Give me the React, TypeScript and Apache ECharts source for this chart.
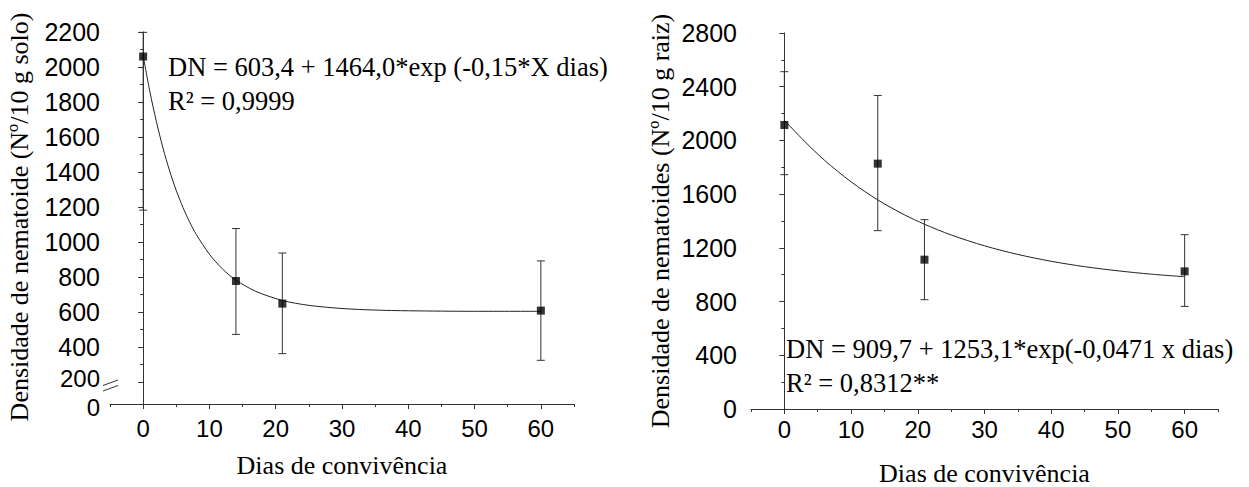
import React, { useEffect, useRef } from 'react';
import * as echarts from 'echarts';

// ---- data ----
const days = [0, 14, 21, 60];
const soloMean = [2060, 777, 648, 608];
const soloLow = [1182, 472, 362, 324];
const soloHigh = [2198, 1077, 937, 892];
const raizMean = [2115, 1827, 1112, 1025];
const raizLow = [1745, 1328, 814, 764];
const raizHigh = [2512, 2335, 1410, 1298];

// fitted curves
const soloFitDays = [0, 1, 2, 3, 4, 5, 6, 7, 8, 10, 12, 14, 17, 21, 25, 30, 35, 40, 50, 60];
const soloFitValues = [2066, 1862, 1688, 1536, 1406, 1294, 1198, 1115, 1044, 930, 845, 782, 718, 666, 638, 620, 611, 607, 604, 604];
const raizFitDays = [0, 3, 6, 10, 14, 18, 21, 25, 30, 35, 40, 45, 50, 55, 60];
const raizFitValues = [2150, 1995, 1853, 1692, 1557, 1446, 1376, 1296, 1215, 1151, 1100, 1060, 1029, 1004, 985];

// tick labels
const xTicks = [0, 10, 20, 30, 40, 50, 60];
const xMinorTicks = [-5, 5, 15, 25, 35, 45, 55, 65];
const lowerYTicks = [0];
const breakTopValue = 200;

const eqSolo = 'DN = 603,4 + 1464,0*exp (-0,15*X dias)';
const r2Solo = 'R² = 0,9999';
const eqRaiz = 'DN = 909,7 + 1253,1*exp(-0,0471 x dias)';
const r2Raiz = 'R² = 0,8312**';
const ySoloTitle = 'Densidade de nematoide (Nº/10 g solo)';
const yRaizTitle = 'Densidade de nematoides (Nº/10 g raiz)';
const xTitle = 'Dias de convivência';

const SERIF = "'Liberation Serif', 'Times New Roman', serif";
const SANS = "'Liberation Sans', Arial, sans-serif";
const AX = '#333';
const plain = (v: number) => String(v);

function errorBarRender(params: any, api: any) {
  const x = api.value(0);
  const lo = api.coord([x, api.value(1)]);
  const hi = api.coord([x, api.value(2)]);
  const w = 4;
  const style = { stroke: '#333', lineWidth: 1, fill: 'none' };
  return {
    type: 'group',
    children: [
      { type: 'line', shape: { x1: lo[0], y1: lo[1], x2: hi[0], y2: hi[1] }, style },
      { type: 'line', shape: { x1: hi[0] - w, y1: hi[1], x2: hi[0] + w, y2: hi[1] }, style },
      { type: 'line', shape: { x1: lo[0] - w, y1: lo[1], x2: lo[0] + w, y2: lo[1] }, style },
    ],
  };
}

function majorX(gridIndex: number, margin: number, nameGap: number) {
  return {
    type: 'value', gridIndex, min: -5, max: 65, position: 'bottom',
    axisLine: { show: true, lineStyle: { color: AX, width: 1 } },
    axisTick: { show: true, length: 5, customValues: xTicks, lineStyle: { color: AX } },
    axisLabel: { show: true, customValues: xTicks, formatter: plain, fontFamily: SANS, fontSize: 24, color: '#000', margin },
    splitLine: { show: false },
    name: xTitle, nameLocation: 'middle', nameGap,
    nameTextStyle: { fontFamily: SERIF, fontSize: 26, color: '#000' },
  };
}
function minorX(gridIndex: number) {
  return {
    type: 'value', gridIndex, min: -5, max: 65, position: 'bottom',
    axisLine: { show: false },
    axisTick: { show: true, length: 3, customValues: xMinorTicks, lineStyle: { color: AX } },
    axisLabel: { show: false },
    splitLine: { show: false },
  };
}

const yLabel = (margin: number) => ({
  formatter: plain, fontFamily: SANS, fontSize: 25, color: '#000', margin,
});

export default function App() {
  const ref = useRef<HTMLDivElement>(null);
  useEffect(() => {
    document.body.style.margin = '0';
    if (!ref.current) return;
    const chart = echarts.init(ref.current, null, { renderer: 'svg' });
    const option: any = {
      animation: false,
      backgroundColor: '#fff',
      grid: [
        { left: 110, top: 32, width: 464, height: 350, outerBoundsMode: 'none', containLabel: false },
        { left: 110, top: 382, width: 464, height: 22, outerBoundsMode: 'none', containLabel: false },
        { left: 751, top: 33, width: 467, height: 376, outerBoundsMode: 'none', containLabel: false },
      ],
      xAxis: [
        { type: 'value', gridIndex: 0, min: -5, max: 65, show: false },
        majorX(1, 12, 48),
        minorX(1),
        majorX(2, 8, 51),
        minorX(2),
      ],
      yAxis: [
        {
          type: 'value', gridIndex: 0, min: 200, max: 2200, interval: 200,
          axisLine: { show: true, lineStyle: { color: AX } },
          axisTick: { show: true, length: 5, lineStyle: { color: AX } },
          minorTick: { show: true, splitNumber: 2, length: 3, lineStyle: { color: AX } },
          axisLabel: {
            ...yLabel(10),
            formatter: (v: number) => (v === breakTopValue ? `{b|${v}}` : String(v)),
            rich: { b: { fontFamily: SANS, fontSize: 24, color: '#000', padding: [0, 0, 7, 0] } },
          },
          splitLine: { show: false },
          name: ySoloTitle, nameLocation: 'middle', nameGap: 78, nameRotate: 90,
          nameTextStyle: { fontFamily: SERIF, fontSize: 26, color: '#000', padding: [0, 20, 0, 0] },
        },
        {
          type: 'value', gridIndex: 1, min: 0, max: 200,
          axisLine: { show: true, lineStyle: { color: AX } },
          axisTick: { show: true, length: 5, customValues: lowerYTicks, lineStyle: { color: AX } },
          axisLabel: {
            ...yLabel(10), customValues: lowerYTicks,
            formatter: (v: number) => `{z|${v}}`,
            rich: { z: { fontFamily: SANS, fontSize: 24, color: '#000', padding: [7, 0, 0, 0] } },
          },
          splitLine: { show: false },
        },
        {
          type: 'value', gridIndex: 2, min: 0, max: 2800, interval: 400,
          axisLine: { show: true, lineStyle: { color: AX } },
          axisTick: { show: true, length: 5, lineStyle: { color: AX } },
          minorTick: { show: true, splitNumber: 2, length: 3, lineStyle: { color: AX } },
          axisLabel: yLabel(14),
          splitLine: { show: false },
          name: yRaizTitle, nameLocation: 'middle', nameGap: 78, nameRotate: 90,
          nameTextStyle: { fontFamily: SERIF, fontSize: 26, color: '#000' },
        },
      ],
      series: [
        {
          type: 'line', xAxisIndex: 0, yAxisIndex: 0, smooth: 0.3, showSymbol: false, symbol: 'none',
          data: soloFitDays.map((d, i) => [d, soloFitValues[i]]),
          lineStyle: { color: '#222', width: 1 }, z: 2,
        },
        {
          type: 'custom', xAxisIndex: 0, yAxisIndex: 0, renderItem: errorBarRender,
          encode: { x: 0, y: [1, 2] },
          data: days.map((d, i) => [d, soloLow[i], soloHigh[i]]), z: 3,
        },
        {
          type: 'scatter', xAxisIndex: 0, yAxisIndex: 0, symbol: 'rect', symbolSize: 8,
          itemStyle: { color: '#000' },
          data: days.map((d, i) => [d, soloMean[i]]), z: 4,
        },
        {
          type: 'line', xAxisIndex: 3, yAxisIndex: 2, smooth: 0.3, showSymbol: false, symbol: 'none',
          data: raizFitDays.map((d, i) => [d, raizFitValues[i]]),
          lineStyle: { color: '#222', width: 1 }, z: 2,
        },
        {
          type: 'custom', xAxisIndex: 3, yAxisIndex: 2, renderItem: errorBarRender,
          encode: { x: 0, y: [1, 2] },
          data: days.map((d, i) => [d, raizLow[i], raizHigh[i]]), z: 3,
        },
        {
          type: 'scatter', xAxisIndex: 3, yAxisIndex: 2, symbol: 'rect', symbolSize: 8,
          itemStyle: { color: '#000' },
          data: days.map((d, i) => [d, raizMean[i]]), z: 4,
        },
      ],
      graphic: [
        // axis break marks
        { type: 'polygon', shape: { points: [[107, 384.5], [115, 381.5], [115, 387.5], [107, 390.5]] }, style: { fill: '#fff' }, z: 100 },
        { type: 'line', shape: { x1: 103, y1: 385.5, x2: 118, y2: 380 }, style: { stroke: '#333', lineWidth: 1 }, z: 101 },
        { type: 'line', shape: { x1: 103, y1: 391, x2: 118, y2: 385.5 }, style: { stroke: '#333', lineWidth: 1 }, z: 101 },
        // equations
        { type: 'text', x: 168, y: 67, style: { text: eqSolo, font: `26.5px ${SERIF}`, fill: '#000', verticalAlign: 'middle' }, z: 50 },
        { type: 'text', x: 168, y: 101, style: { text: r2Solo, font: `26.5px ${SERIF}`, fill: '#000', verticalAlign: 'middle' }, z: 50 },
        { type: 'text', x: 786, y: 349, style: { text: eqRaiz, font: `26.5px ${SERIF}`, fill: '#000', verticalAlign: 'middle' }, z: 50 },
        { type: 'text', x: 786, y: 383, style: { text: r2Raiz, font: `26.5px ${SERIF}`, fill: '#000', verticalAlign: 'middle' }, z: 50 },
      ],
    };
    chart.setOption(option);
    return () => chart.dispose();
  }, []);
  return <div ref={ref} style={{ width: 1249, height: 487 }} />;
}
